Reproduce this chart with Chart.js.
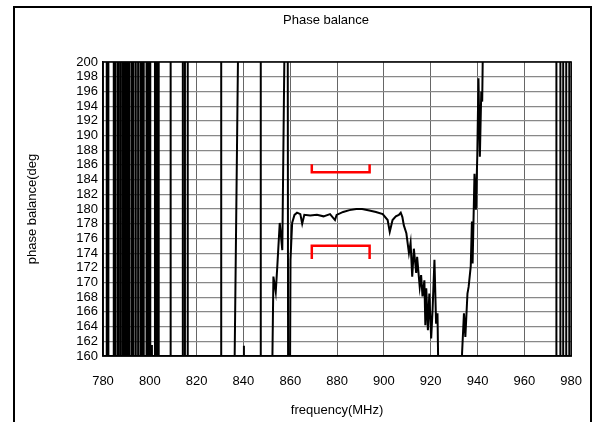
<!DOCTYPE html>
<html>
<head>
<meta charset="utf-8">
<script src="https://cdn.jsdelivr.net/npm/chart.js@4.4.1/dist/chart.umd.min.js"></script>
<style>
  html, body { margin: 0; padding: 0; background: #fff; overflow: hidden; }
  #wrap { position: relative; width: 600px; height: 422px; }
  #frame { position: absolute; left: 13px; top: 6px; width: 575px; height: 430px; border: 2px solid #000; }
  canvas { position: absolute; left: 0; top: 0; }
</style>
</head>
<body>
<div id="wrap">
  <div id="frame"></div>
  <canvas id="phaseChart" width="600" height="422"></canvas>
</div>
<script>
// measured trace, values outside 160..200 are phase wraps (clipped)
const freq = [
  781.6, 781.6, 782.3, 782.3, 784.6, 784.6, 785.4, 785.4, 786.4, 786.4,
  787.3, 787.3, 788.2, 788.2, 789.0, 789.0, 789.6, 789.6, 790.4, 790.4,
  791.2, 791.2, 792.2, 792.2, 793.0, 793.0, 794.0, 794.0, 795.0, 795.0,
  796.0, 796.0, 796.6, 796.6, 797.0, 797.0, 797.4, 797.4,
  798.6, 798.6, 799.4, 799.4, 800.2, 800.2, 800.8, 800.9, 801.0,
  802.2, 802.2, 803.0, 803.0, 803.8, 803.8, 808.9, 808.9, 814.1, 814.1,
  815.0, 815.0, 816.2, 816.2, 830.5, 830.5, 835.9, 838.0, 839.0,
  840.1, 840.2, 840.3, 847.4, 847.4, 848.0,
  852.0, 852.8, 853.8, 854.5, 855.5, 856.6, 857.8, 858.9, 859.1, 859.8,
  860.1, 860.8, 861.8, 862.9, 864.3, 865.1, 866.0, 868.5, 871.4, 874.2,
  877.0, 879.1, 879.8, 882.6, 885.3, 888.2, 890.7, 893.8, 896.6, 899.5,
  901.6, 902.5, 903.7, 905.1, 906.4, 907.2, 907.9, 908.5, 909.6, 910.7,
  911.4, 912.1, 912.8, 913.8, 914.2, 915.3, 915.9, 916.5, 917.3, 917.7,
  918.1, 918.8, 919.4, 920.2, 920.8, 921.6, 922.3, 922.9, 923.6,
  932.8, 933.4, 934.2, 934.8, 935.7, 936.2, 937.1, 937.6, 937.9, 938.7,
  939.3, 939.9, 940.4, 941.0, 941.6, 942.0, 942.6,
  973.7, 973.7, 975.4, 975.4, 976.6, 976.6, 977.9, 977.9, 979.2, 979.2
];
const phase = [
  150, 210, 210, 150, 150, 210, 210, 150, 150, 210,
  210, 150, 150, 210, 210, 150, 150, 210, 210, 150,
  150, 210, 210, 150, 150, 210, 210, 150, 150, 210,
  210, 150, 150, 210, 210, 150, 150, 210,
  210, 150, 150, 210, 210, 150, 150, 161.5, 150,
  150, 210, 210, 150, 150, 210, 210, 150, 150, 210,
  210, 150, 150, 210, 210, 150, 150, 210, null,
  150, 161.4, 150, 150, 210, null,
  150, 170.8, 168.7, 172.4, 178.1, 174.4, 210, 210, 150, 150,
  173.1, 178.1, 179.2, 179.5, 179.3, 178.0, 179.2, 179.1, 179.2, 179.0,
  179.3, 178.5, 179.2, 179.6, 179.85, 180.0, 180.0, 179.8, 179.6, 179.3,
  178.5, 176.9, 178.5, 179.0, 179.2, 179.5, 178.9, 177.8, 176.7, 174.0,
  175.4, 170.8, 174.6, 171.3, 173.5, 169.4, 171.0, 168.1, 170.3, 164.2,
  169.2, 163.5, 168.5, 162.4, 166.3, 173.1, 164.4, 165.8, 150,
  150, 160.4, 165.8, 162.6, 168.5, 169.4, 172.2, 178.3, 172.6, 184.8,
  179.9, 187.3, 197.8, 187.1, 196.0, 194.6, 210,
  210, 150, 150, 210, 210, 150, 150, 210, 210, 150
];

// spec limit brackets
const bracketFreq = [869.2, 869.2, 893.9, 893.9];
const upperLimit = [186.1, 185.0, 185.0, 186.1];
const lowerLimit = [173.2, 175.0, 175.0, 173.2];

const xTicks = [780, 800, 820, 840, 860, 880, 900, 920, 940, 960, 980];
const titleText = 'Phase balance';

const FONT = "'Liberation Sans', Arial, sans-serif";

function toPoints(xs, ys) {
    return xs.map((x, i) => ({ x: x, y: ys[i] }));
}

const boxPlugin = {
    id: 'boxPlugin',
    afterDraw(chart) {
        const { ctx, chartArea: a } = chart;
        ctx.save();
        ctx.strokeStyle = '#000';
        ctx.lineWidth = 1.5;
        ctx.strokeRect(a.left, a.top, a.right - a.left, a.bottom - a.top);
        ctx.fillStyle = '#000';
        ctx.font = '13px ' + FONT;
        ctx.textAlign = 'center';
        ctx.textBaseline = 'middle';
        ctx.fillText(titleText, 326, 20);
        ctx.restore();
    }
};

const ctx = document.getElementById('phaseChart').getContext('2d');

new Chart(ctx, {
    type: 'line',
    data: {
        datasets: [{
            data: toPoints(freq, phase),
            borderColor: '#000',
            borderWidth: 2,
            pointRadius: 0,
            tension: 0,
            spanGaps: false,
            clip: 0
        }, {
            data: toPoints(bracketFreq, upperLimit),
            borderColor: '#ff0000',
            borderWidth: 2.5,
            pointRadius: 0,
            tension: 0
        }, {
            data: toPoints(bracketFreq, lowerLimit),
            borderColor: '#ff0000',
            borderWidth: 2.5,
            pointRadius: 0,
            tension: 0
        }]
    },
    options: {
        responsive: false,
        animation: false,
        events: [],
        layout: {
            padding: { left: 21, right: 22, top: 62, bottom: 0 }
        },
        plugins: {
            legend: { display: false },
            tooltip: { enabled: false },
            title: { display: false }
        },
        scales: {
            x: {
                type: 'linear',
                min: 780,
                max: 980,
                afterBuildTicks: (scale) => {
                    scale.ticks = xTicks.map(v => ({ value: v }));
                },
                afterFit: (scale) => { scale.height = 66; },
                grid: { color: '#666', lineWidth: 1, drawTicks: false },
                border: { display: true, color: '#000', width: 1.5 },
                ticks: {
                    color: '#000',
                    font: { family: FONT, size: 13 },
                    padding: 18,
                    maxRotation: 0
                },
                title: {
                    display: true,
                    text: 'frequency(MHz)',
                    color: '#000',
                    font: { family: FONT, size: 13 },
                    padding: { top: 0, bottom: 4 }
                }
            },
            y: {
                min: 160,
                max: 200,
                afterFit: (scale) => { scale.width = 82; },
                grid: { color: '#888', lineWidth: 1.2, drawTicks: false },
                border: { display: true, color: '#000', width: 1.5 },
                ticks: {
                    stepSize: 2,
                    autoSkip: false,
                    color: '#000',
                    font: { family: FONT, size: 13 },
                    padding: 5
                },
                title: {
                    display: true,
                    text: 'phase balance(deg',
                    color: '#000',
                    font: { family: FONT, size: 13 },
                    padding: { top: 4, bottom: 0 }
                }
            }
        }
    },
    plugins: [boxPlugin]
});
</script>
</body>
</html>
